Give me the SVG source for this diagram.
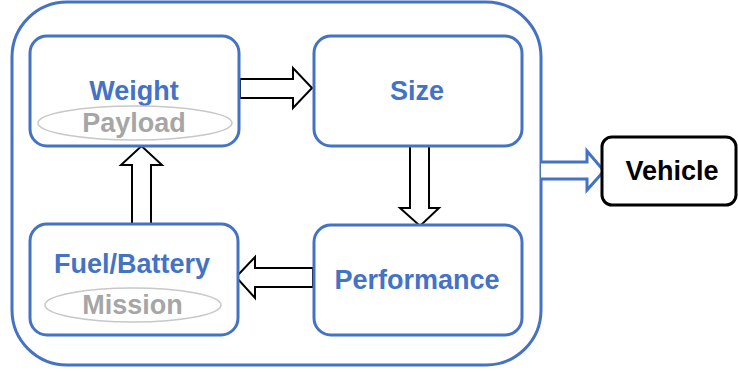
<svg xmlns="http://www.w3.org/2000/svg" width="738" height="372" viewBox="0 0 738 372">
  <style>
    .frame { fill: #ffffff; stroke: #4472C4; stroke-width: 3; }
    .box { fill: #ffffff; stroke: #4472C4; stroke-width: 3; }
    .label { font-family: "Liberation Sans", Arial, sans-serif; font-weight: bold; font-size: 27px; text-anchor: middle; }
    .blue { fill: #4472C4; }
    .gray { fill: #A6A6A6; }
    .tag { fill: none; stroke: #C8C8C8; stroke-width: 1.5; }
    .block { fill: #ffffff; stroke: #000000; stroke-width: 2; stroke-linejoin: miter; }
    .outlet { fill: #ffffff; stroke: #4472C4; stroke-width: 3; stroke-linejoin: miter; }
  </style>

  <!-- sizing loop container -->
  <rect id="loop" class="frame" x="12" y="2" width="529" height="363" rx="55" ry="55"/>

  <g id="connectors">
    <!-- Weight -> Size -->
    <polygon class="block" points="240,79 293,79 293,68 312,88 293,108 293,98 240,98"/>
    <!-- Size -> Performance -->
    <polygon class="block" points="410,146 429,146 429,208 439,208 420,226 400,208 410,208"/>
    <!-- Performance -> Fuel/Battery -->
    <polygon class="block" points="313,268 255,268 255,257 236,277 255,298 255,287 313,287"/>
    <!-- Fuel/Battery -> Weight -->
    <polygon class="block" points="132,224 132,165 121,165 141.5,146 162,165 151,165 151,224"/>
    <!-- loop -> Vehicle -->
    <polyline class="outlet" points="541,162 587,162 587,151 604,171 587,190 587,179 541,179"/>
  </g>

  <g id="weight">
    <rect class="box" x="30" y="36" width="209" height="110" rx="17" ry="17"/>
    <text class="label blue" x="134" y="100">Weight</text>
    <ellipse class="tag" cx="135" cy="123" rx="97" ry="17"/>
    <text class="label gray" x="134" y="132">Payload</text>
  </g>

  <g id="size">
    <rect class="box" x="314" y="36" width="208" height="110" rx="17" ry="17"/>
    <text class="label blue" x="417" y="100">Size</text>
  </g>

  <g id="fuel">
    <rect class="box" x="30" y="224" width="208" height="111" rx="17" ry="17"/>
    <text class="label blue" x="132" y="273">Fuel/Battery</text>
    <ellipse class="tag" cx="133" cy="305" rx="88" ry="17"/>
    <text class="label gray" x="132.5" y="314">Mission</text>
  </g>

  <g id="performance">
    <rect class="box" x="314" y="225" width="208" height="110" rx="17" ry="17"/>
    <text class="label blue" x="417" y="289">Performance</text>
  </g>

  <g id="vehicle">
    <rect x="602" y="137" width="134" height="68" rx="10" ry="10" fill="#ffffff" stroke="#000000" stroke-width="3"/>
    <text class="label" x="672" y="180" fill="#000000">Vehicle</text>
  </g>
</svg>
